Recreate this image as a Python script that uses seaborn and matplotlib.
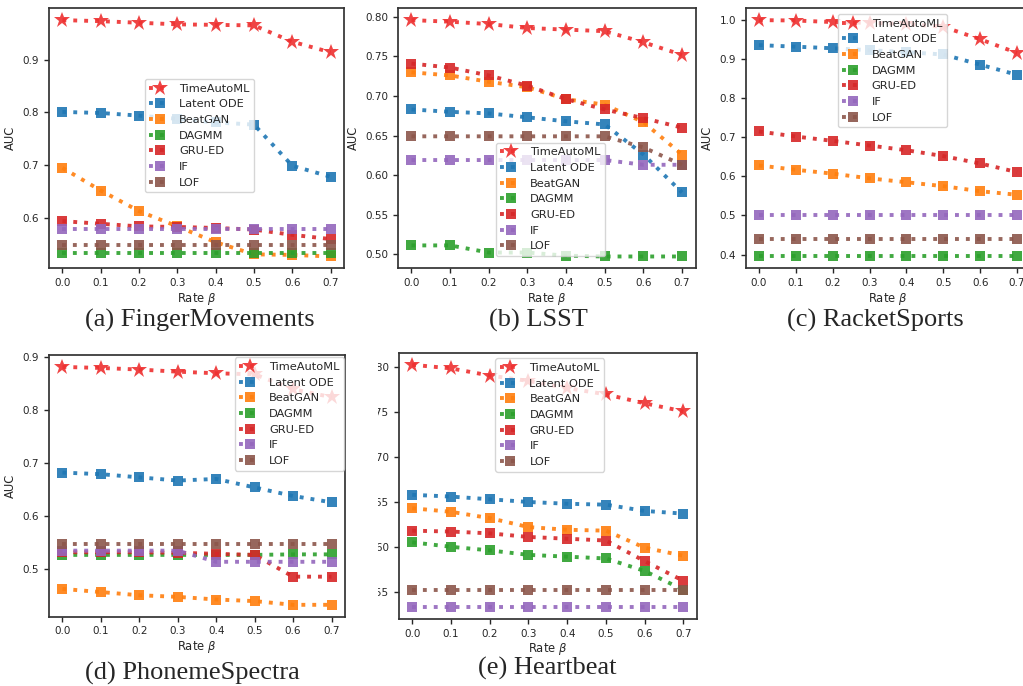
import matplotlib
matplotlib.use("Agg")
import matplotlib.pyplot as plt
import seaborn as sns
from matplotlib.transforms import Bbox, TransformedBbox

sns.set_style("ticks")
plt.rcParams['font.family'] = ['DejaVu Sans']

rates = [0.0, 0.1, 0.2, 0.3, 0.4, 0.5, 0.6, 0.7]
methods = ["TimeAutoML", "Latent ODE", "BeatGAN", "DAGMM", "GRU-ED", "IF", "LOF"]
colors = ["#ee3030", "#1f77b4", "#ff7f0e", "#2ca02c", "#d62728", "#9467bd", "#8c564b"]
markers = ["*", "s", "s", "s", "s", "s", "s"]

# rows follow the order of methods
finger = [
    [0.975, 0.973, 0.970, 0.967, 0.966, 0.965, 0.934, 0.914],
    [0.801, 0.799, 0.794, 0.788, 0.781, 0.777, 0.699, 0.678],
    [0.695, 0.652, 0.613, 0.584, 0.554, 0.531, 0.530, 0.527],
    [0.533, 0.533, 0.533, 0.533, 0.533, 0.533, 0.533, 0.533],
    [0.594, 0.589, 0.584, 0.583, 0.581, 0.578, 0.568, 0.560],
    [0.580, 0.580, 0.580, 0.580, 0.580, 0.580, 0.580, 0.580],
    [0.549, 0.549, 0.549, 0.549, 0.549, 0.549, 0.549, 0.549],
]
lsst = [
    [0.796, 0.794, 0.791, 0.786, 0.784, 0.782, 0.768, 0.752],
    [0.683, 0.680, 0.678, 0.673, 0.668, 0.664, 0.626, 0.578],
    [0.730, 0.726, 0.718, 0.711, 0.696, 0.689, 0.667, 0.626],
    [0.511, 0.511, 0.502, 0.502, 0.498, 0.497, 0.497, 0.497],
    [0.741, 0.736, 0.726, 0.713, 0.696, 0.683, 0.672, 0.660],
    [0.619, 0.619, 0.619, 0.619, 0.619, 0.619, 0.613, 0.613],
    [0.649, 0.649, 0.649, 0.649, 0.649, 0.649, 0.635, 0.613],
]
racket = [
    [1.000, 0.999, 0.995, 0.993, 0.990, 0.983, 0.951, 0.916],
    [0.936, 0.932, 0.928, 0.923, 0.918, 0.912, 0.886, 0.860],
    [0.628, 0.617, 0.607, 0.595, 0.585, 0.575, 0.562, 0.553],
    [0.395, 0.395, 0.395, 0.395, 0.395, 0.395, 0.395, 0.395],
    [0.715, 0.702, 0.691, 0.679, 0.667, 0.652, 0.633, 0.611],
    [0.500, 0.500, 0.500, 0.500, 0.500, 0.500, 0.500, 0.500],
    [0.441, 0.441, 0.441, 0.441, 0.441, 0.441, 0.441, 0.441],
]
phoneme = [
    [0.881, 0.879, 0.876, 0.872, 0.869, 0.867, 0.839, 0.824],
    [0.682, 0.679, 0.673, 0.667, 0.670, 0.654, 0.638, 0.626],
    [0.463, 0.457, 0.451, 0.448, 0.443, 0.440, 0.433, 0.433],
    [0.527, 0.527, 0.527, 0.527, 0.527, 0.527, 0.528, 0.528],
    [0.532, 0.532, 0.532, 0.531, 0.529, 0.527, 0.486, 0.486],
    [0.535, 0.535, 0.535, 0.535, 0.514, 0.514, 0.514, 0.514],
    [0.547, 0.547, 0.547, 0.547, 0.547, 0.547, 0.547, 0.547],
]
heartbeat = [
    [0.803, 0.799, 0.791, 0.785, 0.777, 0.770, 0.760, 0.751],
    [0.658, 0.656, 0.653, 0.650, 0.648, 0.647, 0.640, 0.637],
    [0.643, 0.639, 0.632, 0.622, 0.619, 0.618, 0.599, 0.590],
    [0.605, 0.600, 0.596, 0.591, 0.589, 0.587, 0.573, 0.552],
    [0.618, 0.617, 0.615, 0.611, 0.609, 0.607, 0.584, 0.562],
    [0.533, 0.533, 0.533, 0.533, 0.533, 0.533, 0.533, 0.533],
    [0.552, 0.552, 0.552, 0.552, 0.552, 0.552, 0.552, 0.552],
]

panels = [
    # data, yticks, axes rect, legend anchor, caption, caption pos
    (finger, [0.6, 0.7, 0.8, 0.9], [0.0479, 0.6089, 0.2884, 0.379], (0.325, 0.728),
     "(a) FingerMovements", (0.1955, 0.533)),
    (lsst, [0.50, 0.55, 0.60, 0.65, 0.70, 0.75, 0.80], [0.389, 0.6089, 0.2909, 0.379], (0.329, 0.483),
     "(b) LSST", (0.526, 0.533)),
    (racket, [0.4, 0.5, 0.6, 0.7, 0.8, 0.9, 1.0], [0.7292, 0.6089, 0.2776, 0.379], (0.323, 0.978),
     "(c) RacketSports", (0.856, 0.533)),
    (phoneme, [0.5, 0.6, 0.7, 0.8, 0.9], [0.0479, 0.101, 0.2893, 0.3815], (0.628, 0.991),
     "(d) PhonemeSpectra", (0.188, 0.019)),
    (heartbeat, [0.55, 0.60, 0.65, 0.70, 0.75, 0.80], [0.3897, 0.0977, 0.2916, 0.3882], (0.324, 0.979),
     "(e) Heartbeat", (0.535, 0.026)),
]

fig = plt.figure(figsize=(10.23, 6.86), dpi=100)

for i, (data, yticks, rect, anchor, caption, cpos) in enumerate(panels):
    ax = fig.add_axes(rect)
    for name, vals, c, m in zip(methods, data, colors, markers):
        sns.lineplot(x=rates, y=vals, ax=ax, color=c, marker=m,
                     markersize=12 if m == "*" else 7, markeredgewidth=0,
                     linestyle=(0, (1, 1.8)), linewidth=2.8, alpha=0.9, label=name)
    ax.set_xticks(rates)
    ax.set_yticks(yticks)
    ax.tick_params(labelsize=7.5, length=3.5, width=1)
    for sp in ax.spines.values():
        sp.set_linewidth(1.25)
        sp.set_color("#333333")
    ax.set_xlabel(r"Rate $\beta$", fontsize=8.3, labelpad=2)
    if i != 4:
        ax.set_ylabel("AUC", fontsize=8.3)
    ax.legend(loc="upper left", bbox_to_anchor=anchor, borderaxespad=0,
              fontsize=8.2, handlelength=1.8, handletextpad=0.8, framealpha=0.8)
    if i == 4:
        # the last panel is cut on its left side in the original
        clip = TransformedBbox(Bbox.from_extents(378 / 1023, 0, 1, 1), fig.transFigure)
        for lab in ax.get_yticklabels():
            lab.set_clip_box(clip)
            lab.set_clip_on(True)
    fig.text(cpos[0], cpos[1], caption, ha="center", va="center",
             fontsize=19, family="Liberation Serif")

fig.savefig("out.png", dpi=100)
